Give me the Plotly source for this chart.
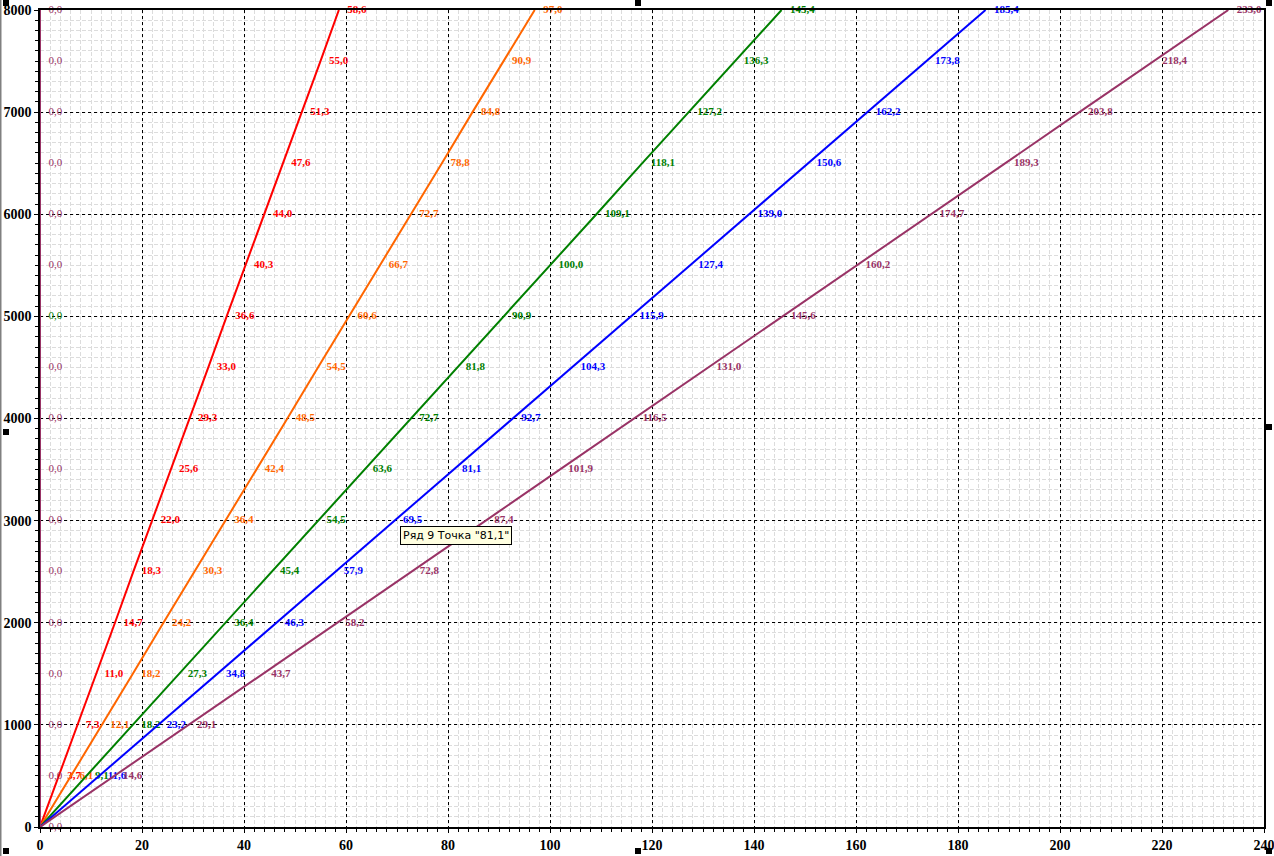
import plotly.graph_objects as go

# ---- data ----
rpm = [0, 500, 1000, 1500, 2000, 2500, 3000, 3500, 4000, 4500, 5000,
       5500, 6000, 6500, 7000, 7500, 8000]

gear1 = [0, 3.7, 7.3, 11.0, 14.7, 18.3, 22.0, 25.6, 29.3, 33.0, 36.6,
         40.3, 44.0, 47.6, 51.3, 55.0, 58.6]
gear2 = [0, 6.1, 12.1, 18.2, 24.2, 30.3, 36.4, 42.4, 48.5, 54.5, 60.6,
         66.7, 72.7, 78.8, 84.8, 90.9, 97.0]
gear3 = [0, 9.1, 18.2, 27.3, 36.4, 45.4, 54.5, 63.6, 72.7, 81.8, 90.9,
         100.0, 109.1, 118.1, 127.2, 136.3, 145.4]
gear4 = [0, 11.6, 23.2, 34.8, 46.3, 57.9, 69.5, 81.1, 92.7, 104.3, 115.9,
         127.4, 139.0, 150.6, 162.2, 173.8, 185.4]
gear5 = [0, 14.6, 29.1, 43.7, 58.2, 72.8, 87.4, 101.9, 116.5, 131.0, 145.6,
         160.2, 174.7, 189.3, 203.8, 218.4, 233.0]
zero_series = [0.0] * len(rpm)

series_names = ["Ряд 1", "Ряд 3", "Ряд 5", "Ряд 7", "Ряд 9"]
series_vals = [gear1, gear2, gear3, gear4, gear5]
series_colors = ["#ff0000", "#ff6600", "#008000", "#0000ff", "#993366"]

x_ticks = [0, 20, 40, 60, 80, 100, 120, 140, 160, 180, 200, 220, 240]
y_ticks = [0, 1000, 2000, 3000, 4000, 5000, 6000, 7000, 8000]

tooltip_text = 'Ряд 9 Точка "81,1"'


def fmt(v):
    return f"{v:.1f}".replace(".", ",")


fig = go.Figure()

label_font = dict(family="Liberation Serif", size=11)
ghost_marker = dict(size=12, color="rgba(0,0,0,0)", line=dict(width=0))

for name, vals, col in zip(series_names, series_vals, series_colors):
    txt = [""] + [fmt(v) for v in vals[1:]]
    fig.add_trace(go.Scatter(
        x=vals, y=rpm, mode="lines+markers+text", name=name,
        line=dict(color=col, width=2), marker=ghost_marker,
        text=[f"<b>{t}</b>" if t else "" for t in txt],
        textposition="middle right",
        textfont=dict(color=col, **label_font),
        cliponaxis=False, showlegend=False,
    ))

# vertical zero series along the y axis
zcols = ["#993366"] * len(rpm)
zcols[10] = "#008000"
fig.add_trace(go.Scatter(
    x=zero_series, y=rpm, mode="lines+markers+text", name="Ряд 0",
    line=dict(color="#993366", width=2), marker=ghost_marker,
    text=[fmt(v) for v in zero_series],
    textposition="middle right",
    textfont=dict(color=zcols, **label_font),
    cliponaxis=False, showlegend=False,
))

# tooltip-like box
fig.add_annotation(
    x=70.5, y=2850, xref="x", yref="y", text=tooltip_text, showarrow=False,
    xanchor="left", yanchor="middle",
    font=dict(family="DejaVu Sans", size=11, color="black"),
    bgcolor="#ffffe1", bordercolor="black", borderwidth=1, borderpad=2,
)

axis_font = dict(family="Liberation Serif", size=14, color="black")

fig.update_xaxes(
    range=[0, 240], tickvals=x_ticks, ticktext=[f"<b>{v}</b>" for v in x_ticks],
    tickfont=axis_font, showline=True, linecolor="black", linewidth=1.5,
    mirror=True, ticks="outside", ticklen=4, tickcolor="black",
    showgrid=True, gridcolor="black", gridwidth=1, griddash="3px,3px",
    zeroline=False, automargin=False, ticklabeloverflow="allow",
    minor=dict(dtick=2, showgrid=True, gridcolor="#dcdcdc", griddash="4px,2px",
               ticks="outside", ticklen=3, tickcolor="black"),
)
fig.update_yaxes(
    range=[0, 8000], tickvals=y_ticks, ticktext=[f"<b>{v}</b>" for v in y_ticks],
    tickfont=axis_font, showline=True, linecolor="black", linewidth=1.5,
    mirror=True, ticks="outside", ticklen=4, tickcolor="black",
    showgrid=True, gridcolor="black", gridwidth=1, griddash="3px,3px",
    zeroline=False, automargin=False, ticklabeloverflow="allow",
    minor=dict(dtick=100, showgrid=True, gridcolor="#dcdcdc", griddash="4px,2px",
               ticks="outside", ticklen=3, tickcolor="black"),
)

# frame decorations (window edge + selection handles)
L, R, T, B = 40, 1264, 10, 827
W, H = R - L, B - T


def px(xp):
    return (xp - L) / W


def py(yp):
    return (B - yp) / H


fig.add_shape(type="line", xref="paper", yref="paper",
              x0=px(0.5), x1=px(0.5), y0=py(0), y1=py(856),
              line=dict(color="#808080", width=2))
handles = [(6, 3), (638, 3), (1269, 3), (6, 432), (1269, 427),
           (6, 851), (638, 851), (1269, 851)]
for hx, hy in handles:
    fig.add_shape(type="rect", xref="paper", yref="paper",
                  x0=px(hx - 3), x1=px(hx + 3), y0=py(hy + 3), y1=py(hy - 3),
                  fillcolor="black", line=dict(width=0))

fig.update_layout(
    width=1274, height=856,
    margin=dict(l=L, r=1274 - R, t=T, b=856 - B, autoexpand=False),
    paper_bgcolor="white", plot_bgcolor="white",
    showlegend=False,
)

fig.write_html(
    "out.html",
    config={"displayModeBar": False},
    post_script="document.body.style.margin='0';document.body.style.overflow='hidden';",
)
